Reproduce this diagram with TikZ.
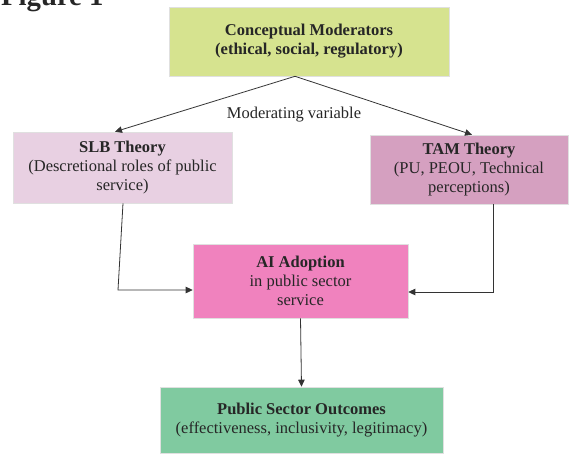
\documentclass[tikz,border=0pt]{standalone}
\usepackage{fontspec}
\setmainfont{Liberation Serif}
\usetikzlibrary{arrows.meta}

\begin{document}
\begin{tikzpicture}
[x=1pt, y=-1pt,
 every node/.style = {align=center, text=black!85, font=\fontsize{16.5}{19}\selectfont},
 box/.style  = {draw=black!12, line width=0.6pt, inner sep=0pt},
 link/.style = {draw=black!80, line width=0.8pt, -{Triangle[width=6.5pt,length=7pt]}},
]

% Define box colors
\definecolor{modcolor}{HTML}{D6E38F}
\definecolor{slbcolor}{HTML}{E8D0E2}
\definecolor{tamcolor}{HTML}{D5A0C0}
\definecolor{aicolor}{HTML}{F082BE}
\definecolor{outcolor}{HTML}{80CAA0}

\useasboundingbox (0,0) rectangle (569,453);

\node[anchor=base west, inner sep=0pt, font=\fontsize{28.7}{30}\selectfont\bfseries] (figlabel) at (1,5) {Figure 1};

%%%%%%%%%%% BOXES
\node[box, fill=modcolor, minimum width=280pt, minimum height=69pt, font=\fontsize{16.5}{19}\selectfont\bfseries]
  (moderators) at (309,41.5) {Conceptual Moderators\\(ethical, social, regulatory)};
\node[box, fill=slbcolor, minimum width=219pt, minimum height=71pt]
  (slb) at (122.5,167.5) {\textbf{SLB Theory}\\(Descretional roles of public\\service)};
\node[box, fill=tamcolor, minimum width=198pt, minimum height=69pt]
  (tam) at (469,169.5) {\textbf{TAM Theory}\\(PU, PEOU, Technical\\perceptions)};
\node[box, fill=aicolor, minimum width=215pt, minimum height=74pt]
  (ai) at (300.5,281) {\textbf{AI Adoption}\\in public sector\\service};
\node[box, fill=outcolor, minimum width=283pt, minimum height=66pt]
  (outcomes) at (301.5,420) {\textbf{Public Sector Outcomes}\\(effectiveness, inclusivity, legitimacy)};

\node (modlabel) at (294,115) {Moderating variable};

%%%%%%%%%% CONNECTIONS
\coordinate (apex)    at ([xshift=-14pt]moderators.south);
\coordinate (slbtip)  at ([xshift=-7.5pt]slb.north);
\coordinate (tamtip)  at ([xshift=3pt]tam.north);
\coordinate (slbbend) at (118,290);
\coordinate (tambend) at (493,292);

\draw[link] (apex) -- (slbtip);
\draw[link] (apex) -- (tamtip);
\draw[link] ([xshift=0.5pt]slb.south) -- (slbbend) -- (slbbend -| ai.west);
\draw[link] (tam.south -| tambend) -- (tambend) -- (tambend -| ai.east);
\draw[link] (ai.south) -- (outcomes.north);

\end{tikzpicture}
\end{document}
